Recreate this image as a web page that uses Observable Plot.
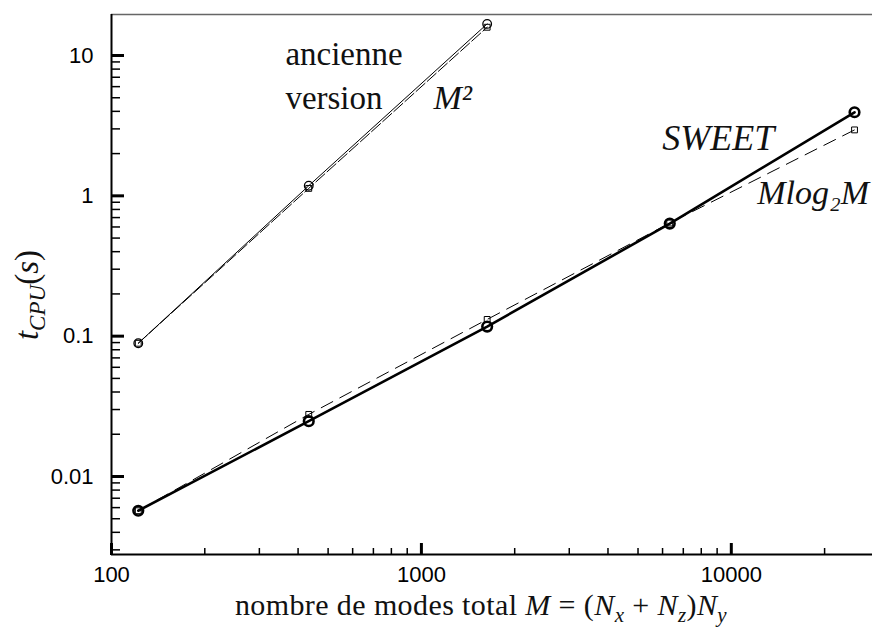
<!DOCTYPE html>
<html><head><meta charset="utf-8">
<script src="https://cdn.jsdelivr.net/npm/d3@7"></script>
<script src="https://cdn.jsdelivr.net/npm/@observablehq/plot@0.6"></script>
<style>body{margin:0;background:#fff}</style>
</head><body><div id="chart"></div>
<script>
// Data
const M = [122, 433, 1630, 6330, 24980];
const tAncienne = [0.089, 1.18, 16.8];
const tM2 = [0.089, 1.13, 15.9];
const tSweet = [0.0057, 0.0248, 0.117, 0.634, 3.94];
const tMlog2M = [0.0057, 0.0277, 0.1316, 0.64, 2.95];

const xTicks = [100, 1000, 10000];
const xMinor = [200, 300, 400, 500, 600, 700, 800, 900, 2000, 3000, 4000, 5000, 6000, 7000, 8000, 9000, 20000];
const yTicks = [0.01, 0.1, 1, 10];
const yMinor = [0.003, 0.004, 0.005, 0.006, 0.007, 0.008, 0.009,
                0.02, 0.03, 0.04, 0.05, 0.06, 0.07, 0.08, 0.09,
                0.2, 0.3, 0.4, 0.5, 0.6, 0.7, 0.8, 0.9,
                2, 3, 4, 5, 6, 7, 8, 9];
const xDomain = [100, 28550];
const yDomain = [0.00278, 19.6];

const romanLabels = [
  {M: 364, t: 8.49, text: "ancienne"},
  {M: 364, t: 4.17, text: "version"}
];
const squareLabel = [{M: 1094, t: 4.17, text: "M²"}];
const sweetLabel = [{M: 5985, t: 2.11, text: "SWEET"}];
const mlogLabel = [{M: 12120, t: 0.88, text: "Mlog₂M"}];

const toRows = (ts) => ts.map((t, i) => ({M: M[i], t}));
const anc = toRows(tAncienne), m2 = toRows(tM2), sweet = toRows(tSweet), mlog = toRows(tMlog2M);

const serif = "'Liberation Serif', 'Times New Roman', 'DejaVu Serif', serif";
const sans = "'Liberation Sans', Arial, Helvetica, sans-serif";
const txt = {x: "M", y: "t", text: "text", textAnchor: "start", lineAnchor: "bottom", fontFamily: serif, fill: "#111"};

const svg = Plot.plot({
  width: 872, height: 630,
  marginLeft: 111, marginRight: 0, marginTop: 14, marginBottom: 76,
  x: {type: "log", domain: xDomain},
  y: {type: "log", domain: yDomain},
  style: {background: "white", color: "black"},
  marks: [
    Plot.ruleY([yDomain[1]], {stroke: "#666", strokeWidth: 1.5}),
    Plot.line(m2, {x: "M", y: "t", stroke: "black", strokeWidth: 1, strokeDasharray: "12,3"}),
    Plot.dot(m2, {x: "M", y: "t", symbol: "square", r: 3.3, stroke: "black", fill: "none", strokeWidth: 1}),
    Plot.line(mlog, {x: "M", y: "t", stroke: "black", strokeWidth: 1, strokeDasharray: "13,8"}),
    Plot.dot(mlog, {x: "M", y: "t", symbol: "square", r: 3.3, stroke: "black", fill: "none", strokeWidth: 1}),
    Plot.line(anc, {x: "M", y: "t", stroke: "black", strokeWidth: 1}),
    Plot.dot(anc, {x: "M", y: "t", r: 4.3, stroke: "black", fill: "none", strokeWidth: 1.3}),
    Plot.line(sweet, {x: "M", y: "t", stroke: "black", strokeWidth: 2.6}),
    Plot.dot(sweet, {x: "M", y: "t", r: 4.8, stroke: "black", fill: "none", strokeWidth: 2.6}),
    Plot.text(romanLabels, {...txt, fontSize: 33}),
    Plot.text(squareLabel, {...txt, fontSize: 34, fontStyle: "italic"}),
    Plot.text(sweetLabel, {...txt, fontSize: 36, fontStyle: "italic"}),
    Plot.text(mlogLabel, {...txt, fontSize: 34, fontStyle: "italic"}),
    Plot.axisX(xTicks, {anchor: "bottom", tickSize: 0, tickPadding: 12, fontSize: 22, fontFamily: sans, tickFormat: d => String(d), label: null}),
    Plot.axisY(yTicks, {anchor: "left", tickSize: 0, tickPadding: 18, fontSize: 22, fontFamily: sans, tickFormat: d => String(d), label: null}),
    Plot.axisX(xTicks, {anchor: "top", frameAnchor: "bottom", tickSize: 12, strokeWidth: 3, tickFormat: () => "", label: null}),
    Plot.axisX(xMinor, {anchor: "top", frameAnchor: "bottom", tickSize: 7, strokeWidth: 1.5, tickFormat: () => "", label: null}),
    Plot.axisY(yTicks, {anchor: "right", frameAnchor: "left", tickSize: 12, strokeWidth: 3, tickFormat: () => "", label: null}),
    Plot.axisY(yMinor, {anchor: "right", frameAnchor: "left", tickSize: 8, strokeWidth: 1.5, tickFormat: () => "", label: null}),
    Plot.ruleX([xDomain[0]], {stroke: "black", strokeWidth: 2}),
    Plot.ruleY([yDomain[0]], {stroke: "black", strokeWidth: 2})
  ]
});
document.getElementById("chart").append(svg);

function richText(sel, parts, size) {
  parts.forEach(p => {
    const ts = sel.append("tspan").text(p.t);
    if (p.i) ts.attr("font-style", "italic");
    if (p.sub) ts.attr("font-size", size * 0.7).attr("dy", size * 0.22);
    if (p.up) ts.attr("dy", -size * 0.22);
  });
}

const s = d3.select(svg);
const xt = s.append("text")
  .attr("x", 481).attr("y", 615)
  .attr("text-anchor", "middle")
  .style("font-family", serif).style("letter-spacing", "0.4px")
  .attr("font-size", 30).attr("fill", "#111");
richText(xt, [
  {t: "nombre de modes total "}, {t: "M", i: true}, {t: " = ("}, {t: "N", i: true},
  {t: "x", i: true, sub: true}, {t: " + ", up: true}, {t: "N", i: true}, {t: "z", i: true, sub: true},
  {t: ")", up: true}, {t: "N", i: true}, {t: "y", i: true, sub: true}
], 30);

const yt = s.append("text")
  .attr("transform", "translate(38,295) rotate(-90)")
  .attr("text-anchor", "middle")
  .style("font-family", serif).attr("font-size", 33).attr("fill", "#111");
richText(yt, [
  {t: "t", i: true}, {t: "CPU", i: true, sub: true}, {t: "(", up: true}, {t: "s", i: true}, {t: ")"}
], 33);
</script>
</body></html>
